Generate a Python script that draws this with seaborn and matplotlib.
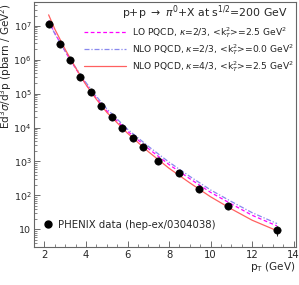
import numpy as np
import pandas as pd
import matplotlib
matplotlib.use("Agg")
import matplotlib.pyplot as plt
import matplotlib.ticker as mticker
import seaborn as sns

# PHENIX pi0 data
pt_data = [2.23, 2.73, 3.23, 3.73, 4.23, 4.73, 5.23, 5.74, 6.24, 6.74, 7.45, 8.46, 9.46, 10.86, 13.2]
xs_data = [1.1e7, 2.9e6, 1.0e6, 3.1e5, 1.1e5, 4.4e4, 2.0e4, 1.0e4, 4.8e3, 2.7e3, 1.0e3, 460, 155, 49, 9.3]
xs_err = [4e5, 1e5, 3e4, 1e4, 4e3, 1.6e3, 800, 400, 200, 120, 50, 25, 10, 4, 3]

# theory curves
pt_curve = [2.2, 2.5, 3.0, 3.5, 4.0, 4.5, 5.0, 6.0, 7.0, 8.0, 9.0, 10.0, 11.0, 12.0, 13.2]
lo_k23 = [1.41e7, 6.0e6, 1.74e6, 5.5e5, 1.86e5, 7.2e4, 3.1e4, 7.8e3, 2.4e3, 810, 310, 123, 56, 26, 12.6]
nlo_k23_kt0 = [1.32e7, 5.75e6, 1.78e6, 5.9e5, 2.1e5, 8.3e4, 3.55e4, 8.9e3, 2.8e3, 955, 363, 145, 66, 31, 14.8]
nlo_k43 = [2.09e7, 7.9e6, 2.0e6, 5.75e5, 1.82e5, 6.8e4, 2.8e4, 6.8e3, 1.95e3, 630, 234, 91, 40, 18.6, 9.1]

curve_labels = [r"LO PQCD, $\kappa$=2/3, <k$_T^2$>=2.5 GeV$^2$",
                r"NLO PQCD, $\kappa$=2/3, <k$_T^2$>=0.0 GeV$^2$",
                r"NLO PQCD, $\kappa$=4/3, <k$_T^2$>=2.5 GeV$^2$"]
y_ticks = [10, 1e2, 1e3, 1e4, 1e5, 1e6, 1e7]
x_ticks = [2, 4, 6, 8, 10, 12, 14]

sns.set_style("ticks")
plt.rcParams['font.family'] = ['DejaVu Sans']

fig = plt.figure(figsize=(2.99, 2.85), dpi=100)
ax = fig.add_axes([0.114, 0.133, 0.875, 0.86])

curves = pd.DataFrame({"pt": pt_curve * 3,
                       "xs": lo_k23 + nlo_k23_kt0 + nlo_k43,
                       "model": [curve_labels[0]] * 15 + [curve_labels[1]] * 15 + [curve_labels[2]] * 15})
styles = {curve_labels[0]: ("#ff00ff", (0, (3, 2))),
          curve_labels[1]: ("#8888ee", (0, (4, 1.5, 1, 1.5))),
          curve_labels[2]: ("#ff6060", "-")}
handles = []
for lab in curve_labels:
    c, ls = styles[lab]
    sub = curves[curves.model == lab]
    sns.lineplot(data=sub, x="pt", y="xs", ax=ax, color=c, linestyle=ls, lw=0.9)
    handles.append(plt.Line2D([], [], color=c, linestyle=ls, lw=0.9, label=lab))

ax.errorbar(pt_data, xs_data, yerr=xs_err, fmt="none", ecolor="black", elinewidth=0.6)
sns.scatterplot(x=pt_data, y=xs_data, ax=ax, color="black", s=28, edgecolor="black", zorder=5)

ax.set_yscale("log")
ax.set_xlim(1.5, 14.1)
ax.set_ylim(3, 5e7)

ax.yaxis.set_major_locator(mticker.FixedLocator(y_ticks))
ax.set_yticklabels(["10" if t == 10 else r"10$^{%d}$" % round(np.log10(t)) for t in y_ticks])
minor_y = [m * 10 ** e for e in range(0, 8) for m in range(2, 10) if 3 <= m * 10 ** e <= 5e7]
ax.yaxis.set_minor_locator(mticker.FixedLocator(minor_y))
ax.yaxis.set_minor_formatter(mticker.NullFormatter())
ax.xaxis.set_major_locator(mticker.FixedLocator(x_ticks))
ax.set_xticklabels([str(t) for t in x_ticks])
ax.xaxis.set_minor_locator(mticker.MultipleLocator(0.5))

ax.tick_params(which="both", direction="in", color="#555555")
ax.tick_params(axis="y", labelsize=6.8, pad=2)
ax.tick_params(axis="x", labelsize=7.2, pad=2)
ax.tick_params(which="major", length=4, width=0.6)
ax.tick_params(which="minor", length=2, width=0.5)
for s in ax.spines.values():
    s.set_color("#666666")
    s.set_linewidth(0.8)

ax.set_xlabel("")
ax.set_ylabel("")
ax.xaxis.label.set_visible(False)
ax.yaxis.label.set_visible(False)
fig.text(0.988, 0.062, r"p$_\mathrm{T}$ (GeV)", ha="right", va="center", fontsize=7.5)
fig.text(0.022, 0.988, r"Ed$^3\sigma$/d$^3$p (pbarn / GeV$^2$)", rotation=90,
         ha="center", va="top", fontsize=7.5)

ax.text(0.97, 0.955, r"p+p $\rightarrow$ $\pi^0$+X at s$^{1/2}$=200 GeV",
        transform=ax.transAxes, ha="right", va="center", fontsize=7.8)

leg1 = ax.legend(handles=handles, loc="upper right", bbox_to_anchor=(1.012, 0.93),
                 frameon=False, fontsize=6.6, handlelength=4.6, handletextpad=0.6,
                 labelspacing=0.25, borderaxespad=0.2)
ax.add_artist(leg1)
dot = plt.Line2D([], [], marker="o", color="black", linestyle="none", markersize=5,
                 label="PHENIX data (hep-ex/0304038)")
ax.legend(handles=[dot], loc="lower left", bbox_to_anchor=(0.0, 0.045), frameon=False,
          fontsize=7.3, handletextpad=0.3, borderaxespad=0.2, handlelength=1.5)

fig.savefig("out.png", dpi=100)
